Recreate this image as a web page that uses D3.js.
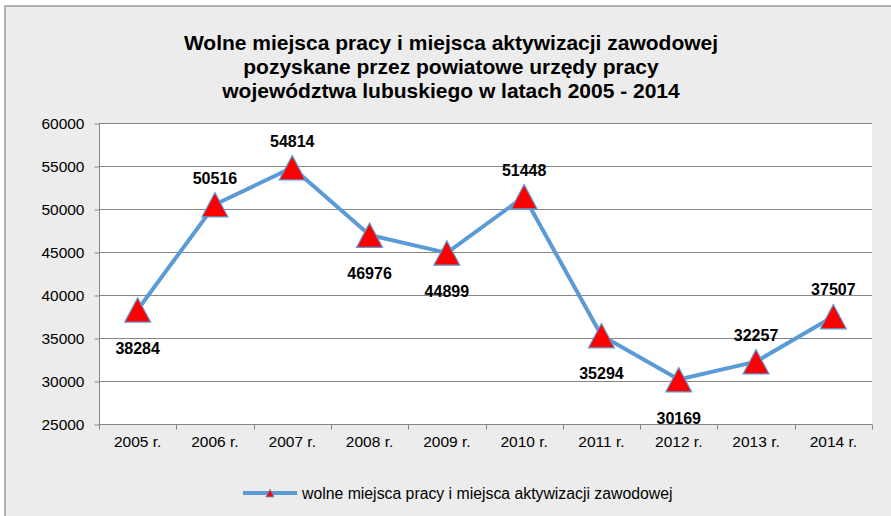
<!DOCTYPE html>
<html>
<head>
<meta charset="utf-8">
<style>
  body { margin: 0; background: #fff; }
  svg { font-family: "Liberation Sans", Arial, sans-serif; }
</style>
</head>
<body>
<svg width="891" height="516"></svg>
<script src="https://d3js.org/d3.v7.min.js"></script>
<script>
var years = ["2005 r.", "2006 r.", "2007 r.", "2008 r.", "2009 r.", "2010 r.", "2011 r.", "2012 r.", "2013 r.", "2014 r."];
var values = [38284, 50516, 54814, 46976, 44899, 51448, 35294, 30169, 32257, 37507];
// label above (1) or below (0) the point
var labelAbove = [0, 1, 1, 0, 0, 1, 0, 0, 1, 1];
var yTicks = [25000, 30000, 35000, 40000, 45000, 50000, 55000, 60000];
var titleLines = ["Wolne miejsca pracy i miejsca aktywizacji zawodowej",
                  "pozyskane przez powiatowe urzędy pracy",
                  "województwa lubuskiego w latach 2005 - 2014"];
var seriesName = "wolne miejsca pracy i miejsca aktywizacji zawodowej";

var svg = d3.select("svg");
var lineColor = "#5b9bd5", axisColor = "#868686";

// chart area background + frame
svg.append("rect").attr("x", 5).attr("y", 6).attr("width", 900).attr("height", 520)
  .attr("fill", "#ececec").attr("stroke", "#9a9a9a").attr("stroke-width", 1.5);

var title = svg.append("text")
  .attr("text-anchor", "middle")
  .style("font-size", "21px")
  .style("font-weight", "bold")
  .attr("fill", "#000");
titleLines.forEach(function(t, i) {
  title.append("tspan").attr("x", 451).attr("y", 50 + i * 24).text(t);
});

var margin = {left: 99, top: 123, right: 872, bottom: 424};

var x = d3.scaleBand().domain(years).range([margin.left, margin.right]);
var y = d3.scaleLinear().domain([25000, 60000]).range([margin.bottom, margin.top]);

svg.append("rect").attr("x", margin.left).attr("y", margin.top)
  .attr("width", margin.right - margin.left).attr("height", margin.bottom - margin.top)
  .attr("fill", "#fff");

// gridlines
svg.append("g").selectAll("line").data(yTicks.slice(1)).enter().append("line")
  .attr("x1", margin.left).attr("x2", margin.right)
  .attr("y1", function(d) { return y(d) + 0.5; }).attr("y2", function(d) { return y(d) + 0.5; })
  .attr("stroke", axisColor).attr("stroke-width", 1);

// y axis
var yAxis = svg.append("g").attr("transform", "translate(" + (margin.left + 0.5) + ",0.5)")
  .call(d3.axisLeft(y).tickValues(yTicks).tickSize(5).tickPadding(10).tickFormat(d3.format("d")));
yAxis.select(".domain").attr("stroke", axisColor).attr("d", "M0," + margin.top + "V" + margin.bottom);
yAxis.selectAll(".tick line").attr("stroke", axisColor);
yAxis.selectAll(".tick text").attr("fill", "#000").style("font-size", "15.5px").style("font-family", "Liberation Sans, Arial, sans-serif");

// x axis
var xAxis = svg.append("g").attr("transform", "translate(0," + (margin.bottom + 0.5) + ")");
xAxis.append("line").attr("x1", margin.left).attr("x2", margin.right)
  .attr("stroke", axisColor);
xAxis.selectAll(".xt").data(years.concat(["end"])).enter().append("line")
  .attr("x1", function(d, i) { return i < years.length ? Math.round(x(d)) + 0.5 : margin.right + 0.5; })
  .attr("x2", function(d, i) { return i < years.length ? Math.round(x(d)) + 0.5 : margin.right + 0.5; })
  .attr("y1", 0).attr("y2", 5).attr("stroke", axisColor);
xAxis.selectAll(".xl").data(years).enter().append("text")
  .attr("x", function(d) { return x(d) + x.bandwidth() / 2; })
  .attr("y", 22)
  .attr("text-anchor", "middle")
  .style("font-size", "15.5px")
  .attr("fill", "#000")
  .text(function(d) { return d; });

// line
var cx = function(i) { return x(years[i]) + x.bandwidth() / 2; };
svg.append("path").datum(values)
  .attr("d", d3.line().x(function(d, i) { return cx(i); }).y(function(d) { return y(d); }))
  .attr("fill", "none").attr("stroke", lineColor).attr("stroke-width", 4).attr("stroke-linejoin", "round");

// markers
var tri = function(s) { return "M0," + (-s * 0.95) + "L" + (s * 1.03) + "," + (s * 0.98) + "L" + (-s * 1.03) + "," + (s * 0.98) + "Z"; };
svg.append("g").selectAll("path").data(values).enter().append("path")
  .attr("transform", function(d, i) { return "translate(" + cx(i) + "," + y(d) + ")"; })
  .attr("d", tri(12.6))
  .attr("fill", "#ff0000").attr("stroke", lineColor).attr("stroke-width", 1.2);

// data labels
svg.append("g").selectAll("text").data(values).enter().append("text")
  .attr("x", function(d, i) { return cx(i); })
  .attr("y", function(d, i) { return y(d) + (labelAbove[i] ? -21 : 44); })
  .attr("text-anchor", "middle")
  .style("font-size", "16px").style("font-weight", "bold")
  .attr("fill", "#000")
  .text(function(d) { return d; });

// legend
var lg = svg.append("g").attr("transform", "translate(243,493)");
lg.append("line").attr("x1", 0).attr("x2", 54).attr("y1", 0).attr("y2", 0)
  .attr("stroke", lineColor).attr("stroke-width", 4);
lg.append("path").attr("transform", "translate(27,0)").attr("d", tri(4))
  .attr("fill", "#ff0000").attr("stroke", lineColor).attr("stroke-width", 0.8);
lg.append("text").attr("x", 59).attr("y", 5.5).style("font-size", "15.8px").attr("fill", "#000").text(seriesName);
</script>
</body>
</html>
